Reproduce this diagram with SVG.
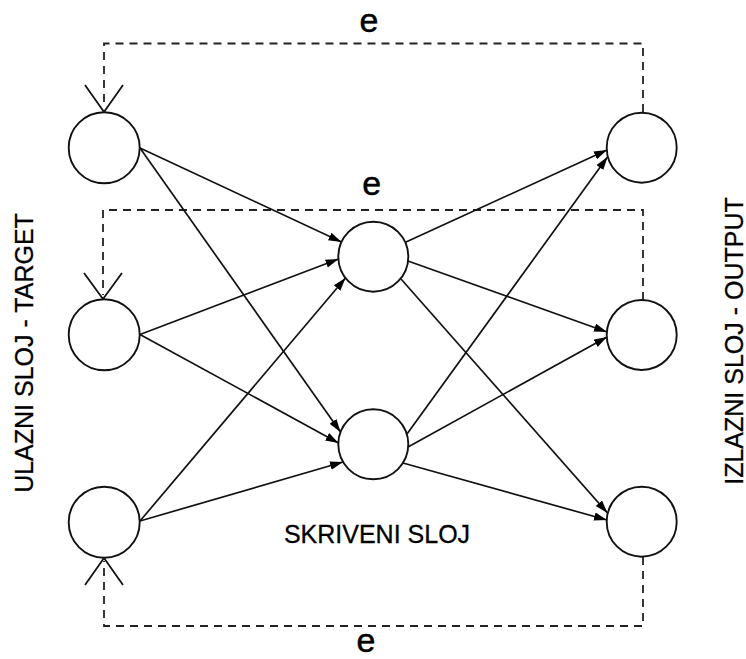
<svg xmlns="http://www.w3.org/2000/svg" width="746" height="659" viewBox="0 0 746 659">
<style>
.node{fill:#fff;stroke:#111;stroke-width:1.9}
.edge{stroke:#111;stroke-width:1.7;fill:none}
.dash{stroke:#222;stroke-width:1.8;fill:none;stroke-dasharray:8,6}
.vhead{stroke:#111;stroke-width:1.8;fill:none}
.lbl{font-family:"Liberation Sans",Arial,sans-serif;fill:#000}
.e{font-size:34px;text-anchor:middle;stroke:#000;stroke-width:0.5}
.t{font-size:25px;text-anchor:middle;stroke:#000;stroke-width:0.3}
</style>
<defs>
<marker id="ah" markerUnits="userSpaceOnUse" markerWidth="14" markerHeight="10" viewBox="0 0 14 10" refX="13" refY="5" orient="auto">
<path d="M0,0.8 L13,5 L0,9.2 z" fill="#000"/>
</marker>
</defs>
<g id="feedback">
<polyline class="dash" points="643,112 643,43.5 104,43.5 104,108"/>
<polyline class="vhead" points="85,85 104,112 123,85"/>
<polyline class="dash" points="643,300 643,210 103,210 103,295"/>
<polyline class="vhead" points="84,273 103,299 122,273"/>
<polyline class="dash" points="643,557 643,626 104,626 104,561"/>
<polyline class="vhead" points="85,585 104,558 123,585"/>
</g>
<g id="connectors">
<line class="edge" x1="140" y1="148" x2="341.5" y2="242" marker-end="url(#ah)"/>
<line class="edge" x1="140" y1="148" x2="340.5" y2="432" marker-end="url(#ah)"/>
<line class="edge" x1="140" y1="334.5" x2="338.5" y2="259" marker-end="url(#ah)"/>
<line class="edge" x1="140" y1="334.5" x2="338.5" y2="443" marker-end="url(#ah)"/>
<line class="edge" x1="140" y1="521" x2="345.5" y2="278" marker-end="url(#ah)"/>
<line class="edge" x1="140" y1="521" x2="343" y2="462" marker-end="url(#ah)"/>
<line class="edge" x1="406" y1="242" x2="607" y2="150" marker-end="url(#ah)"/>
<line class="edge" x1="408" y1="261" x2="607" y2="332" marker-end="url(#ah)"/>
<line class="edge" x1="401" y1="279" x2="607.5" y2="513" marker-end="url(#ah)"/>
<line class="edge" x1="407" y1="434" x2="607.5" y2="157" marker-end="url(#ah)"/>
<line class="edge" x1="408" y1="447" x2="607" y2="337" marker-end="url(#ah)"/>
<line class="edge" x1="403" y1="463" x2="607" y2="520" marker-end="url(#ah)"/>
</g>
<g id="in1"><circle class="node" cx="104.2" cy="147.7" r="35.5"/></g>
<g id="in2"><circle class="node" cx="104.2" cy="334.7" r="35.5"/></g>
<g id="in3"><circle class="node" cx="104.2" cy="522.2" r="35.5"/></g>
<g id="h1"><circle class="node" cx="373.3" cy="256.7" r="35"/></g>
<g id="h2"><circle class="node" cx="373.3" cy="444.3" r="35"/></g>
<g id="out1"><circle class="node" cx="641.7" cy="147.7" r="35"/></g>
<g id="out2"><circle class="node" cx="641.7" cy="335" r="35"/></g>
<g id="out3"><circle class="node" cx="641.7" cy="521.7" r="35"/></g>
<g id="labels">
<text class="lbl e" x="369" y="32">e</text>
<text class="lbl e" x="371.7" y="195">e</text>
<text class="lbl e" x="366" y="652">e</text>
<text class="lbl t" x="377" y="543">SKRIVENI SLOJ</text>
<text class="lbl t" transform="translate(33,353) rotate(-90)">ULAZNI SLOJ - TARGET</text>
<text class="lbl t" transform="translate(742.5,341) rotate(-90)">IZLAZNI SLOJ - OUTPUT</text>
</g>
</svg>
